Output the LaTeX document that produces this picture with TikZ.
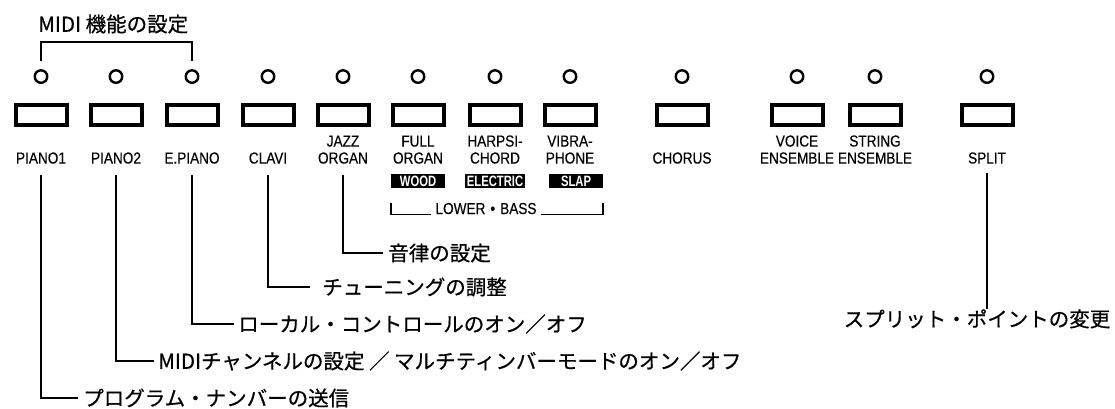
\documentclass[tikz,border=0pt]{standalone}
\usepackage{fontspec}
\setmainfont{Liberation Sans}
\newfontfamily\lblfont[FakeStretch=0.85,FakeBold=0.3]{Liberation Sans}
\newfontfamily\tagfont[FakeStretch=0.75]{Liberation Sans Bold}
\newfontfamily\jpfont[FakeBold=0.6]{Noto Sans CJK JP}
\usetikzlibrary{positioning}

\begin{document}
\begin{tikzpicture}[x=1pt, y=-1pt, semithick, node distance=19pt]
		\tikzstyle{every node}=[inner sep=0pt]
		\tikzstyle{led}=[circle, draw, line width=2.4pt, minimum size=12.5pt]
		\tikzstyle{key}=[draw, line width=4pt, minimum width=51pt, minimum height=20pt]
		\tikzstyle{lbl}=[font={\lblfont\fontsize{16}{17}\selectfont}, align=center, anchor=south]
		\tikzstyle{tag}=[fill=black, text=white, font={\tagfont\fontsize{15}{15}\selectfont}, minimum width=54pt, minimum height=14pt, inner xsep=2pt]
		\tikzstyle{jp}=[font={\jpfont\fontsize{20.5}{21}\selectfont}, anchor=west]
		\tikzstyle{lead}=[line width=1.8pt]

		\useasboundingbox (0,0) rectangle (1115,408);

		% panel buttons
		\node[key] (b1) at (41,115) {}; \node[key] (b2) at (116,115) {};
		\node[key] (b3) at (192,115) {}; \node[key] (b4) at (268,115) {};
		\node[key] (b5) at (343,115) {}; \node[key] (b6) at (418,115) {};
		\node[key] (b7) at (495,115) {}; \node[key] (b8) at (570,115) {};
		\node[key] (b9) at (682,115) {}; \node[key] (b10) at (797,115) {};
		\node[key] (b11) at (875,115) {}; \node[key] (b12) at (987,115) {};

		% lamps
		\node[led] (d1) [above=of b1] {}; \node[led] (d2) [above=of b2] {};
		\node[led] (d3) [above=of b3] {}; \node[led] (d4) [above=of b4] {};
		\node[led] (d5) [above=of b5] {}; \node[led] (d6) [above=of b6] {};
		\node[led] (d7) [above=of b7] {}; \node[led] (d8) [above=of b8] {};
		\node[led] (d9) [above=of b9] {}; \node[led] (d10) [above=of b10] {};
		\node[led] (d11) [above=of b11] {}; \node[led] (d12) [above=of b12] {};

		% button names
		\node[lbl] (l1) at ([yshift=-37pt]b1.south) {PIANO1};
		\node[lbl] (l2) at ([yshift=-37pt]b2.south) {PIANO2};
		\node[lbl] (l3) at ([yshift=-37pt]b3.south) {E.PIANO};
		\node[lbl] (l4) at ([yshift=-37pt]b4.south) {CLAVI};
		\node[lbl] (l5) at ([yshift=-37pt]b5.south) {JAZZ\\ORGAN};
		\node[lbl] (l6) at ([yshift=-37pt]b6.south) {FULL\\ORGAN};
		\node[lbl] (l7) at ([yshift=-37pt]b7.south) {HARPSI-\\CHORD};
		\node[lbl] (l8) at ([yshift=-37pt]b8.south) {VIBRA-\\PHONE};
		\node[lbl] (l9) at ([yshift=-37pt]b9.south) {CHORUS};
		\node[lbl] (l10) at ([yshift=-37pt]b10.south) {VOICE\\ENSEMBLE};
		\node[lbl] (l11) at ([yshift=-37pt]b11.south) {STRING\\ENSEMBLE};
		\node[lbl] (l12) at ([yshift=-37pt]b12.south) {SPLIT};

		% lower bass
		\node[tag] (w1) [below=10pt of l6] {WOOD};
		\node[tag] (w2) [below=10pt of l7] {ELECTRIC};
		\node[tag] (w3) [below=10pt of l8, xshift=6pt] {SLAP};
		\node[lbl, inner xsep=4pt] (lb) at (486,214.5) {LOWER\hspace{5pt}•\hspace{5pt}BASS};
		\draw[lead] (w1.west |- lb.north) -- (w1.west |- lb.south) -- (lb.south west);
		\draw[lead] (lb.south east) -- (w3.east |- lb.south) -- (w3.east |- lb.north);

		% MIDI bracket
		\node[jp] (title) at (38,24) {MIDI 機能の設定};
		\draw[lead] ([yshift=8pt]d1.north) -- ++(0,-19) -| ([yshift=8pt]d3.north);

		% functions
		\node[jp] (t5) at (388,253) {音律の設定};
		\node[jp] (t4) at (322,287) {チューニングの調整};
		\node[jp] (t3) at (238,324) {ローカル・コントロールのオン／オフ};
		\node[jp] (t2) at (158,361) {MIDIチャンネルの設定 ／ マルチティンバーモードのオン／オフ};
		\node[jp] (t1) at (83,398) {プログラム・ナンバーの送信};
		\node[jp, anchor=north] (t12) at (977,309) {スプリット・ポイントの変更};

		\draw[lead] ([yshift=-11pt]l1.south) |- ([xshift=-5pt]t1.west);
		\draw[lead] ([yshift=-11pt]l2.south) |- ([xshift=-4pt]t2.west);
		\draw[lead] ([yshift=-11pt]l3.south) |- ([xshift=-4pt]t3.west);
		\draw[lead] ([yshift=-11pt]l4.south) |- ([xshift=-12pt]t4.west);
		\draw[lead] ([yshift=-11pt]l5.south) |- ([xshift=-5pt]t5.west);
		\draw[lead] ([yshift=-9pt]l12.south) -- (l12.south |- t12.north);
	\end{tikzpicture}
\end{document}
